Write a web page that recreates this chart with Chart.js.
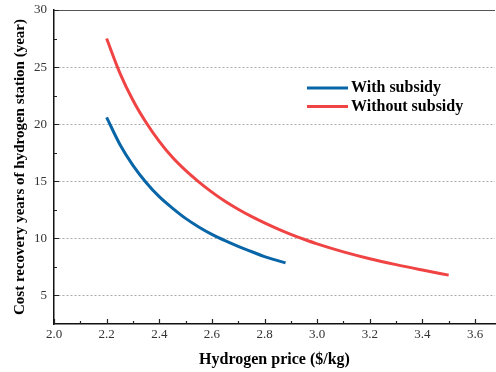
<!DOCTYPE html>
<html lang="en">
<head>
  <meta charset="utf-8">
  <script src="https://cdn.jsdelivr.net/npm/chart.js"></script>
</head>
<style>
  html, body {
      margin: 0;
      padding: 0;
      background-color: #fff;
    }

    .wrap {
      width: 496px;
      height: 372px;
      position: relative;
    }
</style>
<body>

  <div class="wrap">
    <canvas id="paybackChart" width="496" height="372"></canvas>
  </div>

  <script>
    // price axis ($/kg) and recovery years
    var priceWith = [2.20, 2.25, 2.30, 2.35, 2.40, 2.45, 2.50, 2.55, 2.60, 2.65, 2.70, 2.75, 2.80, 2.85, 2.88];
    var yearsWith = [20.6, 18.25, 16.4, 14.9, 13.65, 12.65, 11.75, 11.0, 10.35, 9.8, 9.3, 8.85, 8.4, 8.05, 7.85];

    var priceWithout = [2.20, 2.25, 2.30, 2.35, 2.40, 2.45, 2.50, 2.55, 2.60, 2.65, 2.70, 2.75, 2.80, 2.85, 2.90, 2.95, 3.00, 3.10, 3.20, 3.30, 3.40, 3.50];
    var yearsWithout = [27.5, 24.5, 22.1, 20.15, 18.5, 17.1, 15.95, 14.95, 14.05, 13.25, 12.55, 11.92, 11.35, 10.83, 10.35, 9.92, 9.52, 8.82, 8.22, 7.7, 7.23, 6.78];

    var seriesLabels = ['With subsidy', 'Without subsidy'];
    var xTicks = [2.0, 2.2, 2.4, 2.6, 2.8, 3.0, 3.2, 3.4, 3.6];
    var xMinorTicks = [2.1, 2.3, 2.5, 2.7, 2.9, 3.1, 3.3, 3.5];
    var yTicks = [5, 10, 15, 20, 25, 30];
    var yMinorTicks = [7.5, 12.5, 17.5, 22.5, 27.5];

    var serif = "'Liberation Serif', 'Times New Roman', serif";

    function toPoints(xs, ys) {
      return xs.map(function (x, i) { return { x: x, y: ys[i] }; });
    }

    // ticks pointing into the plot, plus the top frame line
    var frameTicks = {
      id: 'frameTicks',
      afterDraw: function (chart) {
        var ctx = chart.ctx, area = chart.chartArea;
        var xs = chart.scales.x, ys = chart.scales.y;
        ctx.save();
        ctx.strokeStyle = '#555';
        ctx.lineWidth = 1;
        ctx.beginPath();
        ctx.moveTo(area.left, area.top + 0.5);
        ctx.lineTo(area.right, area.top + 0.5);
        ctx.stroke();

        ctx.strokeStyle = '#222';
        ctx.lineWidth = 1.2;
        ctx.beginPath();
        xTicks.forEach(function (v) {
          var p = Math.round(xs.getPixelForValue(v)) + 0.5;
          ctx.moveTo(p, area.bottom); ctx.lineTo(p, area.bottom - 5);
        });
        xMinorTicks.forEach(function (v) {
          var p = Math.round(xs.getPixelForValue(v)) + 0.5;
          ctx.moveTo(p, area.bottom); ctx.lineTo(p, area.bottom - 3);
        });
        yTicks.forEach(function (v) {
          var p = Math.round(ys.getPixelForValue(v)) + 0.5;
          ctx.moveTo(area.left, p); ctx.lineTo(area.left + 5, p);
        });
        yMinorTicks.forEach(function (v) {
          var p = Math.round(ys.getPixelForValue(v)) + 0.5;
          ctx.moveTo(area.left, p); ctx.lineTo(area.left + 3, p);
        });
        ctx.stroke();
        ctx.restore();
      }
    };

    // legend drawn inside the plot
    var innerLegend = {
      id: 'innerLegend',
      afterDatasetsDraw: function (chart) {
        var ctx = chart.ctx;
        ctx.save();
        ctx.font = 'bold 16px ' + serif;
        ctx.textBaseline = 'middle';
        ctx.fillStyle = '#000';
        chart.data.datasets.forEach(function (ds, i) {
          var y = 88 + i * 18.5;
          ctx.strokeStyle = ds.borderColor;
          ctx.lineWidth = 3;
          ctx.beginPath();
          ctx.moveTo(307, y);
          ctx.lineTo(348, y);
          ctx.stroke();
          ctx.fillText(ds.label, 351, y);
        });
        ctx.restore();
      }
    };

    var ctx = document.getElementById('paybackChart').getContext('2d');
    var paybackChart = new Chart(ctx, {
      type: 'scatter',
      data: {
        datasets: [{
          label: seriesLabels[0],
          data: toPoints(priceWith, yearsWith),
          borderColor: '#0866a8',
          backgroundColor: '#0866a8',
          borderWidth: 3,
          showLine: true,
          pointRadius: 0,
          cubicInterpolationMode: 'monotone'
        }, {
          label: seriesLabels[1],
          data: toPoints(priceWithout, yearsWithout),
          borderColor: '#f04444',
          backgroundColor: '#f04444',
          borderWidth: 3,
          showLine: true,
          pointRadius: 0,
          cubicInterpolationMode: 'monotone'
        }]
      },
      options: {
        responsive: false,
        animation: false,
        layout: { padding: { top: 10, right: 1, left: 0, bottom: 0 } },
        plugins: {
          legend: { display: false },
          tooltip: { enabled: false }
        },
        scales: {
          x: {
            type: 'linear',
            min: 2.0,
            max: 3.676,
            afterBuildTicks: function (scale) {
              scale.ticks = xTicks.map(function (v) { return { value: v }; });
            },
            afterFit: function (scale) {
              scale.height = 48;
              scale.paddingLeft = 0;
              scale.paddingRight = 0;
            },
            grid: { display: false, drawTicks: false },
            border: { display: true, color: '#111', width: 1.5 },
            ticks: {
              padding: 3,
              maxRotation: 0,
              autoSkip: false,
              color: '#333',
              font: { family: serif, size: 13 },
              callback: function (v) { return Number(v).toFixed(1); }
            },
            title: {
              display: true,
              text: 'Hydrogen price ($/kg)',
              color: '#000',
              font: { family: serif, size: 16, weight: 'bold' },
              padding: { top: 0, bottom: 3 }
            }
          },
          y: {
            type: 'linear',
            min: 2.5,
            max: 30,
            afterBuildTicks: function (scale) {
              scale.ticks = yTicks.map(function (v) { return { value: v }; });
            },
            afterFit: function (scale) {
              scale.width = 54;
              scale.paddingTop = 0;
              scale.paddingBottom = 0;
            },
            grid: {
              drawTicks: false,
              color: function (c) { return c.tick && c.tick.value === 30 ? 'rgba(0,0,0,0)' : '#aaa'; },
              lineWidth: 1
            },
            border: { display: true, color: '#111', width: 1.5, dash: [2, 2] },
            ticks: {
              padding: 7,
              autoSkip: false,
              color: '#333',
              font: { family: serif, size: 13 }
            },
            title: {
              display: true,
              text: 'Cost recovery years of hydrogen station (year)',
              color: '#000',
              font: { family: serif, size: 15, weight: 'bold' },
              padding: { top: 11, bottom: 0 }
            }
          }
        }
      },
      plugins: [frameTicks, innerLegend]
    });
  </script>
</body>
</html>
